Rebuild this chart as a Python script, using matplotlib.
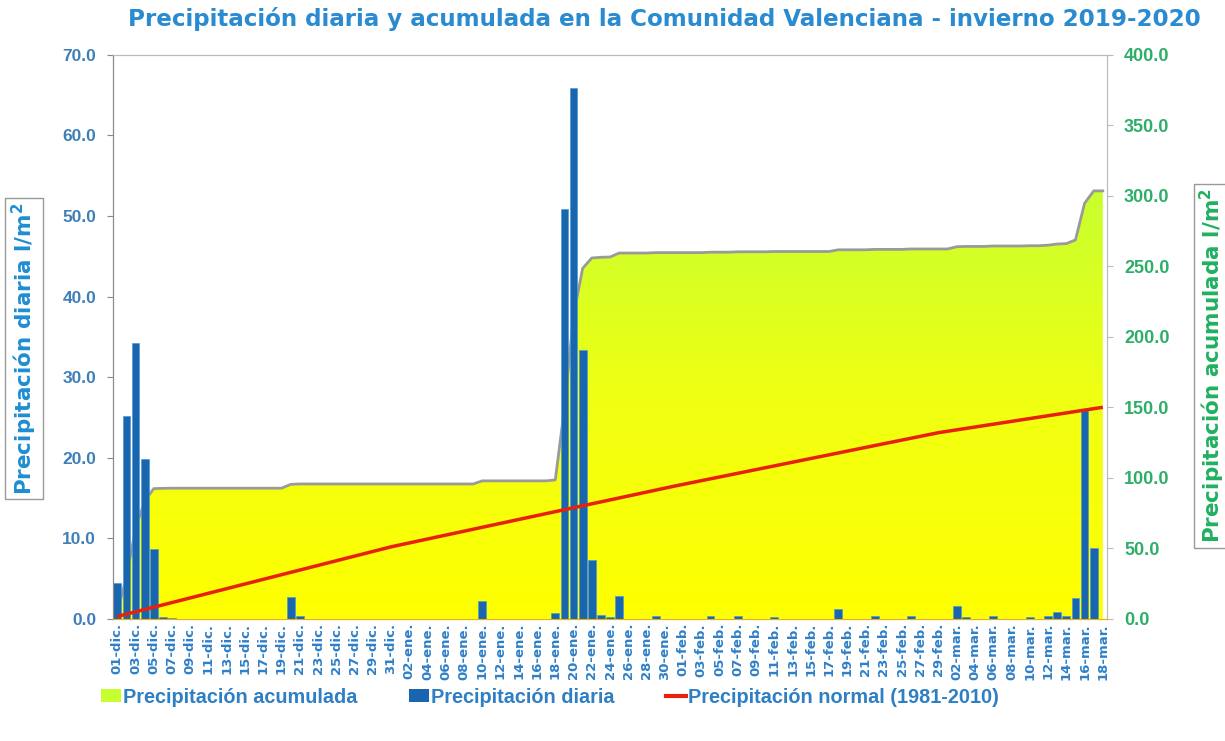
import numpy as np
import pandas as pd
import matplotlib
matplotlib.use("Agg")
import matplotlib.pyplot as plt
from matplotlib.colors import LinearSegmentedColormap
from matplotlib.patches import PathPatch, Patch
from matplotlib.lines import Line2D

plt.rcParams['font.family'] = ['Liberation Sans', 'DejaVu Sans']
plt.rcParams['font.weight'] = 'bold'

# daily precipitation (l/m2), 01-dic-2019 .. 18-mar-2020
dic = [4.4, 25.2, 34.2, 19.8, 8.7, 0.2, 0.1, 0, 0, 0,
       0, 0, 0, 0, 0, 0, 0, 0, 0, 2.7,
       0.3, 0, 0, 0, 0, 0, 0, 0, 0, 0,
       0]
ene = [0, 0, 0, 0, 0, 0, 0, 0, 0, 2.2,
       0, 0, 0, 0, 0, 0, 0, 0.7, 50.9, 65.9,
       33.3, 7.3, 0.5, 0.2, 2.8, 0, 0, 0, 0.3, 0,
       0]
feb = [0, 0, 0, 0.3, 0, 0, 0.3, 0, 0, 0,
       0.2, 0, 0, 0, 0, 0, 0, 1.2, 0, 0,
       0, 0.3, 0, 0, 0, 0.3, 0, 0, 0]
mar = [0, 1.6, 0.2, 0, 0, 0.3, 0, 0, 0, 0.2,
       0, 0.4, 0.8, 0.3, 2.6, 26.0, 8.8, 0]

daily = np.array(dic + ene + feb + mar)
accum = np.cumsum(daily)

# normal accumulated precipitation 1981-2010 (values at day index)
normal_idx = [0, 30, 61, 90, 108]
normal_acc = [1.6, 51.0, 94.0, 132.0, 150.0]

meses = {12: 'dic', 1: 'ene', 2: 'feb', 3: 'mar'}
dates = pd.date_range('2019-12-01', '2020-03-18')
labels = ['%02d-%s.' % (d.day, meses[d.month]) for d in dates]

x = np.arange(len(daily))

fig = plt.figure(figsize=(12.25, 7.41), dpi=100)
ax = fig.add_axes([0.092, 0.165, 0.812, 0.761])
ax2 = ax.twinx()
ax3 = ax.twinx()
ax2.set_zorder(1)
ax.set_zorder(2)
ax3.set_zorder(3)
ax.patch.set_visible(False)
ax3.patch.set_visible(False)

# accumulated area with vertical gradient
cmap = LinearSegmentedColormap.from_list('acc', ['#FFFF00', '#F0FF12', '#C6FF30'])
poly = ax2.fill_between(x, accum, color='none', lw=0)
clip = PathPatch(poly.get_paths()[0], transform=ax2.transData, facecolor='none', edgecolor='none')
ax2.add_patch(clip)
grad = np.linspace(0, 1, 256).reshape(-1, 1)
im = ax2.imshow(grad, extent=[-0.5, 108.5, 0, 310], origin='lower', aspect='auto', cmap=cmap, zorder=1)
im.set_clip_path(clip)
ax2.plot(x, accum, color='#9A9A9A', lw=2, zorder=2)

# daily bars
ax.bar(x, daily, width=0.85, color='#1A66AE', edgecolor='#4C9BD6', linewidth=0.5)

# normal line
ax3.plot(normal_idx, normal_acc, color='#E8200C', lw=2.5, solid_capstyle='butt')

ax.set_xlim(-0.5, 108.5)
ax.set_ylim(0, 70)
ax2.set_ylim(0, 400)
ax3.set_ylim(0, 400)
ax2.set_xlim(-0.5, 108.5)
ax3.set_xlim(-0.5, 108.5)
ax3.axis('off')

ax.set_yticks(np.arange(0, 71, 10))
ax.set_yticklabels(['%.1f' % v for v in np.arange(0, 71, 10)])
ax2.set_yticks(np.arange(0, 401, 50))
ax2.set_yticklabels(['%.1f' % v for v in np.arange(0, 401, 50)])
ax.set_xticks(x[::2])
ax.set_xticklabels(labels[::2], rotation=90, fontsize=9.5, color='#2F80C8', family='DejaVu Sans')
ax.tick_params(axis='x', length=0, pad=3)
ax.tick_params(axis='y', colors='#8A8A8A', labelcolor='#3E7FB8', labelsize=12.5, length=4, pad=8)
ax2.tick_params(axis='y', colors='#BBBBBB', labelcolor='#2EAE68', labelsize=13, length=4, pad=8)

for a in (ax, ax2):
    a.spines['top'].set_color('#BBBBBB')
    a.spines['left'].set_color('#8A8A8A')
    a.spines['right'].set_color('#BBBBBB')
    a.spines['bottom'].set_color('#F0B000')

fig.text(0.542, 0.974, 'Precipitación diaria y acumulada en la Comunidad Valenciana - invierno 2019-2020',
         ha='center', va='center', fontsize=16.6, color='#2A8BD0', fontweight='bold', family='DejaVu Sans')

fig.text(0.0196, 0.530, 'Precipitación diaria l/m$^2$', rotation=90, ha='center', va='center',
         fontsize=15.5, color='#1E8ED2', fontweight='bold', family='DejaVu Sans',
         bbox=dict(boxstyle='square,pad=0.2', facecolor='white', edgecolor='#999999', lw=1))
fig.text(0.990, 0.506, 'Precipitación acumulada l/m$^2$', rotation=90, ha='center', va='center',
         fontsize=15.5, color='#20B060', fontweight='bold', family='DejaVu Sans',
         bbox=dict(boxstyle='square,pad=0.2', facecolor='white', edgecolor='#999999', lw=1))

handles = [Patch(facecolor='#C6FF30', edgecolor='none'),
           Patch(facecolor='#1A66AE', edgecolor='none'),
           Line2D([0], [0], color='#E8200C', lw=3)]
leg = fig.legend(handles, ['Precipitación acumulada', 'Precipitación diaria', 'Precipitación normal (1981-2010)'],
                 loc='center', bbox_to_anchor=(0.449, 0.059), ncol=3, frameon=False,
                 prop={'weight': 'bold', 'size': 14.3},
                 handlelength=1.0, handleheight=0.6, handletextpad=0.1, columnspacing=2.6)
for t in leg.get_texts():
    t.set_color('#2F7FC4')

fig.savefig('out.png', dpi=100)
